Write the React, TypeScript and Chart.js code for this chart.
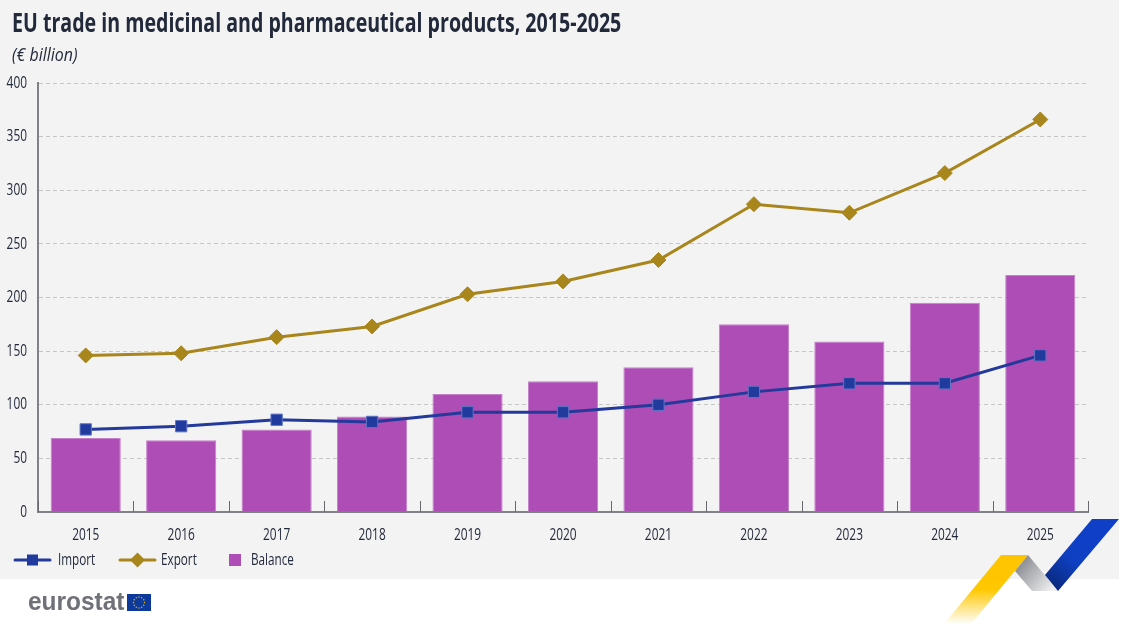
import React, { useEffect, useRef } from "react";
import { Chart, registerables } from "chart.js";

Chart.register(...registerables);

const FONT = '"Open Sans", sans-serif';
const INK = "#22293a";
const years = ["2015","2016","2017","2018","2019","2020","2021","2022","2023","2024","2025"];
const importValues = [77, 80, 86, 84, 93, 93, 100, 112, 120, 120, 146];
const exportValues = [146, 148, 163, 173, 203, 215, 235, 287, 279, 316, 366];
const balanceValues = [69, 67, 77, 89, 110, 122, 135, 175, 159, 195, 221];
const titleText = "EU trade in medicinal and pharmaceutical products, 2015-2025";
const unitText = "(€ billion)";

// The reference uses a condensed face; none is installed, so text is narrowed on the canvas.
let squeeze = 0.72;

function poly(ctx: CanvasRenderingContext2D, pts: number[][], fill: any) {
  ctx.beginPath();
  pts.forEach((p, i) => (i ? ctx.lineTo(p[0], p[1]) : ctx.moveTo(p[0], p[1])));
  ctx.closePath();
  ctx.fillStyle = fill;
  ctx.fill();
}

const background = {
  id: "background",
  beforeDraw(chart: any) {
    const ctx = chart.ctx as CanvasRenderingContext2D;
    ctx.save();
    ctx.fillStyle = "#ffffff";
    ctx.fillRect(0, 0, 1127, 624);
    ctx.fillStyle = "#f3f3f3";
    ctx.fillRect(0, 0, 1119, 579);

    // ribbon
    const y = ctx.createLinearGradient(0, 555, 0, 624);
    y.addColorStop(0, "#ffc400");
    y.addColorStop(0.5, "#ffc800");
    y.addColorStop(1, "#ffffff");
    poly(ctx, [[1001, 555], [1028, 555], [971, 624], [944, 624]], y);
    const g = ctx.createLinearGradient(1018, 565, 1050, 592);
    g.addColorStop(0, "#8b8d92");
    g.addColorStop(1, "#f0f0f2");
    poly(ctx, [[1028, 555], [1058, 591], [1032, 591], [1015, 571]], g);
    const b = ctx.createLinearGradient(1052, 585, 1085, 545);
    b.addColorStop(0, "#0a2a80");
    b.addColorStop(0.6, "#0f3fc0");
    b.addColorStop(1, "#0f3fc6");
    poly(ctx, [[1092, 519], [1119, 519], [1058, 591], [1045, 575]], b);

    // heading
    ctx.textBaseline = "alphabetic";
    ctx.textAlign = "left";
    ctx.fillStyle = INK;
    ctx.font = `bold 27px ${FONT}`;
    squeeze = 0.726;
    ctx.fillText(titleText, 12, 32);
    ctx.font = `italic 18px ${FONT}`;
    squeeze = 0.885;
    ctx.fillText(unitText, 12, 61);

    // logo
    ctx.fillStyle = "#6f7178";
    ctx.font = 'bold 26px "Liberation Sans", sans-serif';
    squeeze = 0.94;
    ctx.fillText("eurostat", 28, 610);
    squeeze = 0.72;
    ctx.fillStyle = "#0d3a9a";
    ctx.fillRect(127, 594, 24, 17);
    ctx.fillStyle = "#e3c02c";
    for (let i = 0; i < 12; i++) {
      const a = (i * Math.PI) / 6;
      ctx.beginPath();
      ctx.arc(139 + 5.5 * Math.cos(a), 602.5 + 5.5 * Math.sin(a), 0.7, 0, Math.PI * 2);
      ctx.fill();
    }
    ctx.restore();
  },
};

const axisAndLegend = {
  id: "axisAndLegend",
  afterDraw(chart: any) {
    const ctx = chart.ctx as CanvasRenderingContext2D;
    const x = chart.scales.x;
    const area = chart.chartArea;
    ctx.save();
    // inward ticks between categories
    ctx.strokeStyle = "#666a70";
    ctx.lineWidth = 1;
    const step = x.getPixelForValue(1) - x.getPixelForValue(0);
    for (let i = 0; i <= years.length; i++) {
      const px = Math.round(x.getPixelForValue(0) - step / 2 + i * step) + 0.5;
      ctx.beginPath();
      ctx.moveTo(px, area.bottom);
      ctx.lineTo(px, area.bottom - 11);
      ctx.stroke();
    }
    // legend
    const ys = 560;
    const ds = chart.data.datasets;
    const entries = [
      { i: 0, lineFrom: 15, lineTo: 50, text: 58 },
      { i: 1, lineFrom: 120, lineTo: 155, text: 161 },
    ];
    ctx.font = `500 16.5px ${FONT}`;
    ctx.textBaseline = "middle";
    ctx.textAlign = "left";
    squeeze = 0.71;
    for (const e of entries) {
      const d = ds[e.i];
      const mid = (e.lineFrom + e.lineTo) / 2;
      ctx.strokeStyle = d.borderColor;
      ctx.lineWidth = 3;
      ctx.lineCap = "round";
      ctx.beginPath();
      ctx.moveTo(e.lineFrom, ys);
      ctx.lineTo(e.lineTo, ys);
      ctx.stroke();
      if (d.pointStyle === "rect") {
        ctx.fillStyle = d.pointBackgroundColor;
        ctx.fillRect(mid - 5.5, ys - 5.5, 11, 11);
      } else {
        poly(ctx, [[mid, ys - 7.5], [mid + 7.5, ys], [mid, ys + 7.5], [mid - 7.5, ys]], d.pointBackgroundColor);
      }
      ctx.fillStyle = INK;
      ctx.fillText(d.label, e.text, ys);
    }
    ctx.fillStyle = ds[2].backgroundColor;
    ctx.fillRect(229, 554, 12, 12);
    ctx.fillStyle = INK;
    ctx.fillText(ds[2].label, 251, ys);
    ctx.restore();
  },
};

export default function App() {
  const ref = useRef<HTMLCanvasElement | null>(null);
  useEffect(() => {
    document.body.style.margin = "0";
    const canvas = ref.current!;
    const c2d = canvas.getContext("2d") as any;
    const fill = c2d.fillText.bind(c2d);
    c2d.fillText = (t: string, x: number, y: number) => {
      c2d.save();
      c2d.translate(x, y);
      c2d.scale(squeeze, 1);
      fill(t, 0, 0);
      c2d.restore();
    };
    const chart = new Chart(canvas, {
      data: {
        labels: years,
        datasets: [
          {
            type: "line", label: "Import", data: importValues, order: 1,
            borderColor: "#23399b", borderWidth: 3, tension: 0,
            pointStyle: "rect", pointRadius: 8, pointBackgroundColor: "#213a9e",
            pointBorderColor: "#5f74c4", pointBorderWidth: 1,
          },
          {
            type: "line", label: "Export", data: exportValues, order: 1,
            borderColor: "#a8861c", borderWidth: 3, tension: 0,
            pointStyle: "rectRot", pointRadius: 7.5, pointBackgroundColor: "#a8861c",
            pointBorderColor: "#a8861c", pointBorderWidth: 1,
          },
          {
            type: "bar", label: "Balance", data: balanceValues, order: 2,
            backgroundColor: "#ad4db5", borderColor: "#c580ca", borderWidth: 1,
            barPercentage: 0.735, categoryPercentage: 1,
          },
        ] as any,
      },
      options: {
        animation: false,
        responsive: false,
        devicePixelRatio: 1,
        layout: { padding: { left: 0, right: 39, top: 83, bottom: 0 } },
        plugins: { legend: { display: false }, title: { display: false }, tooltip: { enabled: false } },
        scales: {
          x: {
            type: "category",
            offset: true,
            afterFit: (s: any) => { s.height = 112; },
            grid: { display: false },
            border: { display: true, color: "#808285", width: 2 },
            ticks: { color: INK, font: { family: FONT, size: 16.5, weight: "500" }, padding: 5, maxRotation: 0 },
          },
          y: {
            min: 0, max: 400,
            afterFit: (s: any) => { s.width = 38; },
            grid: { color: "#c6c6c6", lineWidth: 1, drawTicks: false },
            border: { display: true, color: "#808285", width: 2, dash: [4, 3] },
            ticks: { stepSize: 50, color: INK, font: { family: FONT, size: 16.5, weight: "500" }, padding: 11 },
          },
        },
      } as any,
      plugins: [background, axisAndLegend],
    } as any);
    return () => chart.destroy();
  }, []);
  return <canvas ref={ref} width={1127} height={624} style={{ display: "block", width: 1127, height: 624 }} />;
}
